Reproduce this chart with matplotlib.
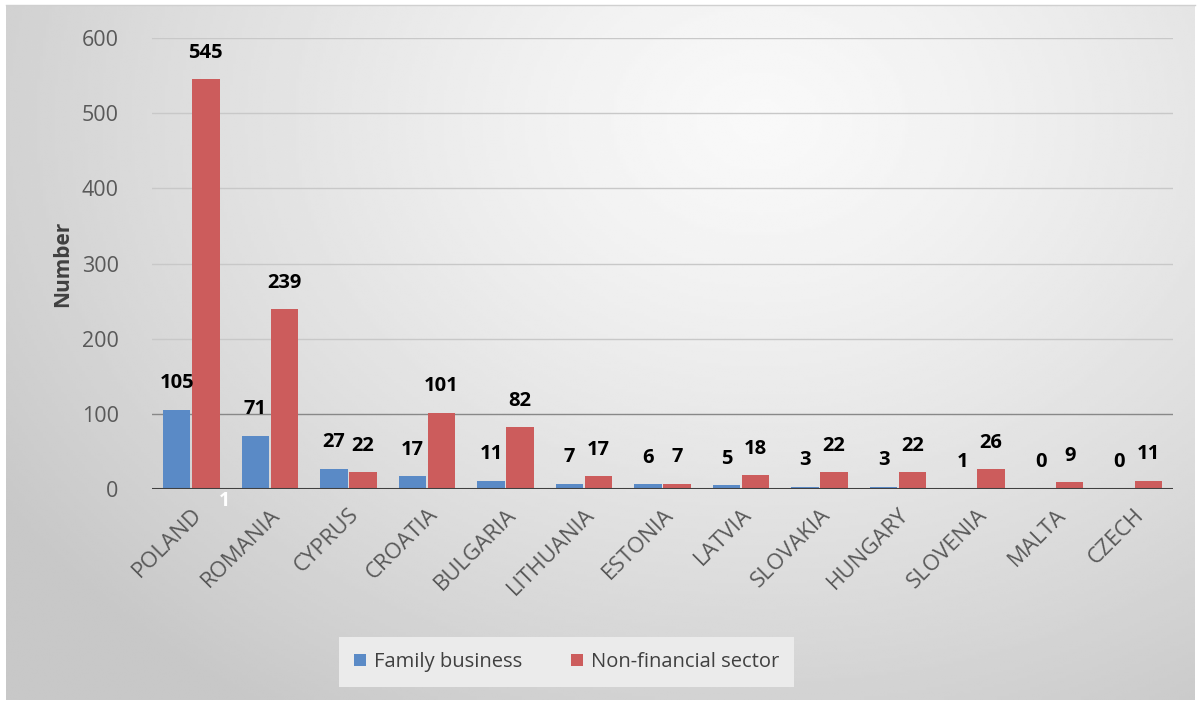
import matplotlib.pyplot as plt
import numpy as np

# Данные с графика
countries = ["POLAND", "ROMANIA", "CYPRUS", "CROATIA", "BULGARIA", "LITHUANIA", "ESTONIA",
             "LATVIA", "SLOVAKIA", "HUNGARY", "SLOVENIA", "MALTA", "CZECH"]
family = [105, 71, 27, 17, 11, 7, 6, 5, 3, 3, 1, 0, 0]
nonfin = [545, 239, 22, 101, 82, 17, 7, 18, 22, 22, 26, 9, 11]
yticks = [0, 100, 200, 300, 400, 500, 600]

plt.rcParams['font.family'] = ['Open Sans', 'DejaVu Sans']

W, H = 1203, 704
fig = plt.figure(figsize=(W / 100, H / 100), dpi=100)
fig.patch.set_facecolor('white')

# Радиальный градиентный фон области диаграммы
bg = fig.add_axes([0, 0, 1, 1], zorder=0)
bg.set_xlim(0, W); bg.set_ylim(H, 0); bg.axis('off')
gx, gy = np.meshgrid(np.linspace(6, 1195, 400), np.linspace(5, 700, 240))
r = np.sqrt(((gx - 760) / 900) ** 2 + ((gy - 120) / 700) ** 2)
r = np.clip(r, 0, 1)
shade = 0.975 - 0.19 * r ** 1.3
bg.imshow(shade, cmap='gray', vmin=0, vmax=1, extent=[6, 1195, 700, 5], aspect='auto',
          interpolation='bilinear')
bg.plot([6, 1195], [5, 5], color='#d0d0d0', lw=1)

ax = fig.add_axes([152 / W, 1 - 489 / H, (1173 - 152) / W, (489 - 38) / H], zorder=1)
ax.patch.set_alpha(0)

x = np.arange(len(countries))
w = 0.35
b1 = ax.bar(x - 0.185, family, w, color='#5a8ac6', label='Family business', zorder=3)
b2 = ax.bar(x + 0.185, nonfin, w, color='#cc5c5c', label='Non-financial sector', zorder=3)

for rect, v in list(zip(b1, family)) + list(zip(b2, nonfin)):
    ax.annotate(str(v), (rect.get_x() + rect.get_width() / 2, v), xytext=(0, 12),
                textcoords='offset points', ha='center', va='bottom',
                fontsize=14.5, fontweight='bold', color='black', zorder=4)

# странная белая «1» под столбцом Польши
ax.text(0.42, -2, "1", color='white', fontsize=14, fontweight='bold', ha='center', va='top', zorder=4)

ax.set_xlim(-0.5, len(countries) - 0.5)
ax.set_ylim(0, 600)
ax.set_yticks(yticks)
for yt in yticks[1:]:
    ax.axhline(yt, color='#888888' if yt == 100 else '#c8c8c8', lw=1, zorder=1)
ax.axhline(0, color='#404040', lw=2.2, zorder=5)

ax.set_xticks(x)
ax.set_xticklabels(countries, rotation=45, ha='right', rotation_mode='anchor',
                   fontsize=16, color='#595959')
ax.tick_params(axis='x', length=0, pad=11)
ax.tick_params(axis='y', length=0, pad=24, labelsize=15.5, labelcolor='#595959')
for s in ax.spines.values():
    s.set_visible(False)

ax.set_ylabel("Number", fontsize=15, fontweight='bold', color='#404040', labelpad=6)

leg = fig.legend(loc='center', bbox_to_anchor=((328 + 805) / 2 / W, 1 - 662 / H), ncol=2,
                 fontsize=14.5, frameon=True, fancybox=False, handlelength=0.6,
                 handleheight=0.6, columnspacing=2.4, borderpad=0.7, handletextpad=0.4,
                 borderaxespad=0)
leg.get_frame().set_facecolor('#ebebeb')
leg.get_frame().set_edgecolor('none')
leg.get_frame().set_alpha(1)
leg.get_frame().set_boxstyle('square', pad=0.05)
for t in leg.get_texts():
    t.set_color('#404040')

fig.savefig('out.png', dpi=100)
